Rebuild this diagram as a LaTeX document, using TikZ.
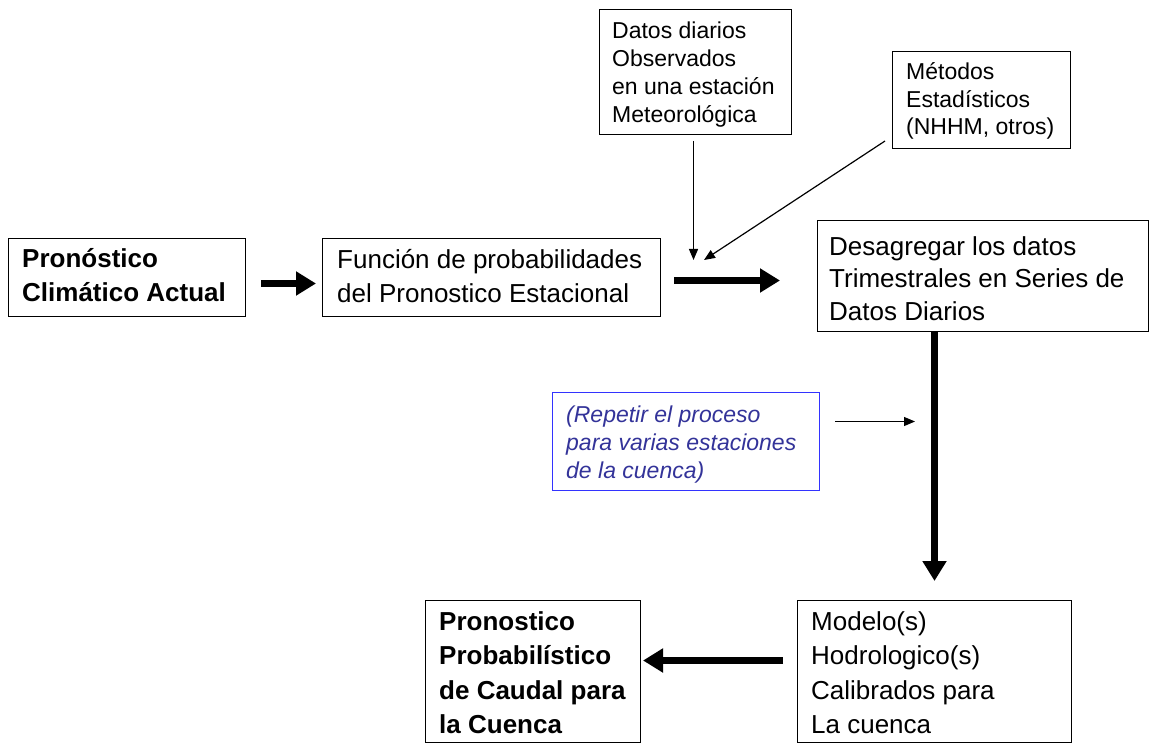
\documentclass[tikz,border=0pt]{standalone}
\usepackage{fontspec}
\setmainfont{Liberation Sans}
\usetikzlibrary{arrows.meta}
\definecolor{bluetext}{RGB}{51,51,153}
\definecolor{blueframe}{RGB}{51,51,255}
\begin{document}
\begin{tikzpicture}[x=1pt,y=-1pt,
  box/.style={draw=black, line width=1pt, inner sep=0pt, anchor=north west},
  bluebox/.style={draw=blueframe, line width=1pt, inner sep=0pt, anchor=north west},
  txt/.style={anchor=base west, inner sep=0pt},
  big/.style={font=\fontsize{26}{34}\selectfont},
  small/.style={font=\fontsize{23}{28}\selectfont},
  thickarrow/.style={line width=7pt, -{Triangle[width=23pt,length=20pt]}},
  thinarrow/.style={line width=1.2pt, -{Triangle[width=9pt,length=11pt]}}]
\useasboundingbox (0,0) rectangle (1150,743);
% boxes
\node[box, minimum width=237pt, minimum height=78pt] (A) at (8,238) {};
\node[box, minimum width=338pt, minimum height=78pt] (B) at (322,238) {};
\node[box, minimum width=331pt, minimum height=111pt] (C) at (817,220) {};
\node[box, minimum width=192pt, minimum height=125pt] (D) at (599,9) {};
\node[box, minimum width=178pt, minimum height=97pt] (E) at (892,51) {};
\node[bluebox, minimum width=267pt, minimum height=98pt] (F) at (552,392) {};
\node[box, minimum width=274pt, minimum height=142pt] (G) at (797,600) {};
\node[box, minimum width=215pt, minimum height=142pt] (H) at (425,600) {};
% texts
\node[txt, big] (tA) at (22,267) {\begin{tabular}[t]{@{}l@{}}\bfseries Pronóstico\\\bfseries Climático Actual\end{tabular}};
\node[txt, big] (tB) at (337,268) {\begin{tabular}[t]{@{}l@{}}Función de probabilidades\\del Pronostico Estacional\end{tabular}};
\node[txt, font=\fontsize{26}{32.5}\selectfont] (tC) at (829,255) {\begin{tabular}[t]{@{}l@{}}Desagregar los datos\\Trimestrales en Series de\\Datos Diarios\end{tabular}};
\node[txt, small] (tD) at (612,39) {\begin{tabular}[t]{@{}l@{}}Datos diarios\\Observados\\en una estación\\Meteorológica\end{tabular}};
\node[txt, font=\fontsize{23}{27.5}\selectfont] (tE) at (906,80) {\begin{tabular}[t]{@{}l@{}}Métodos\\Estadísticos\\(NHHM, otros)\end{tabular}};
\node[txt, small, text=bluetext] (tF) at (566,422) {\begin{tabular}[t]{@{}l@{}}\itshape (Repetir el proceso\\\itshape para varias estaciones\\\itshape de la cuenca)\end{tabular}};
\node[txt, font=\fontsize{26}{34.5}\selectfont] (tG) at (811,630) {\begin{tabular}[t]{@{}l@{}}Modelo(s)\\Hodrologico(s)\\Calibrados para\\La cuenca\end{tabular}};
\node[txt, font=\fontsize{26}{34.5}\selectfont] (tH) at (439,630) {\begin{tabular}[t]{@{}l@{}}\bfseries Pronostico\\\bfseries Probabilístico\\\bfseries de Caudal para\\\bfseries la Cuenca\end{tabular}};
% connectors
\draw[thickarrow] ([xshift=15pt,yshift=-6pt]A.east) -- ([xshift=-6pt,yshift=-6pt]B.west);
\draw[thickarrow] ([xshift=13pt,yshift=-3pt]B.east) -- ++(106,0);
\draw[thickarrow] ([xshift=-48.5pt]C.south) -- ([yshift=19pt]G.north);
\draw[thickarrow] ([xshift=-14pt,yshift=11pt]G.west) -- ([xshift=2pt,yshift=11pt]H.east);
\draw[thinarrow] ([xshift=-2pt,yshift=-6pt]D.south) -- ++(0,119);
\draw[thinarrow] ([xshift=-7pt,yshift=8pt]E.south west) -- ++(-181,119);
\draw[thinarrow] ([xshift=15pt,yshift=20pt]F.east) -- ++(80,0);
\end{tikzpicture}
\end{document}
